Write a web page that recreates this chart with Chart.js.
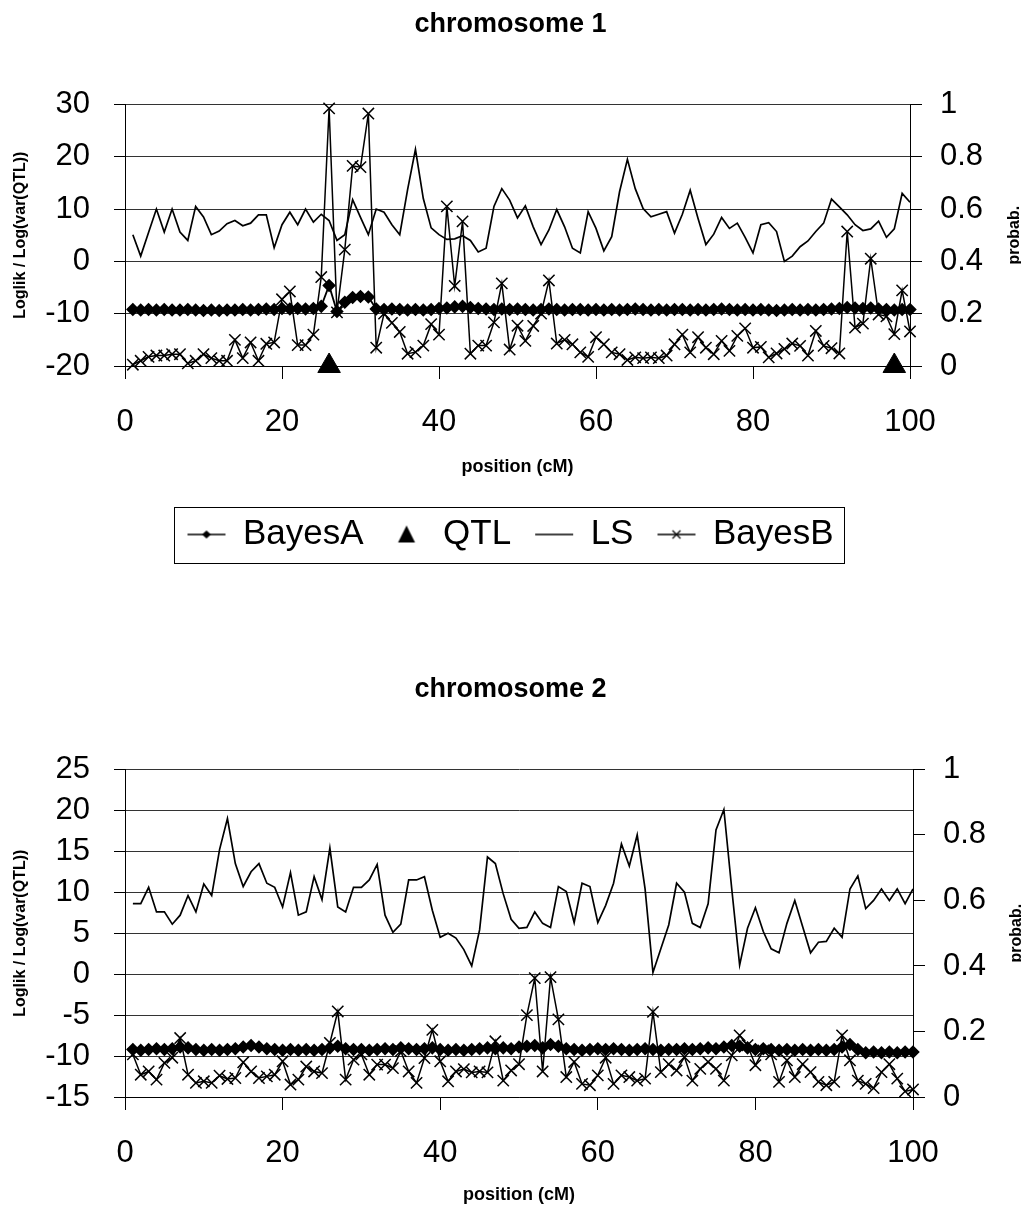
<!DOCTYPE html>
<html>
<head>
<meta charset="utf-8">
<script src="https://cdn.jsdelivr.net/npm/chart.js@4.4.1/dist/chart.umd.min.js"></script>
<style>
  body { margin: 0; background: #fff; width: 1021px; height: 1210px; overflow: hidden; }
  canvas { position: absolute; left: 0; }
  #chart1 { top: 0; }
  #chart2 { top: 600px; }
</style>
</head>
<body>
<canvas id="chart1" width="1021" height="600"></canvas>
<canvas id="chart2" width="1021" height="610"></canvas>
<script>
// positions along the chromosome (cM)
const positions = [1,2,3,4,5,6,7,8,9,10,11,12,13,14,15,16,17,18,19,20,
  21,22,23,24,25,26,27,28,29,30,31,32,33,34,35,36,37,38,39,40,
  41,42,43,44,45,46,47,48,49,50,51,52,53,54,55,56,57,58,59,60,
  61,62,63,64,65,66,67,68,69,70,71,72,73,74,75,76,77,78,79,80,
  81,82,83,84,85,86,87,88,89,90,91,92,93,94,95,96,97,98,99,100];

// chromosome 1
const ls1 = [5.1,1.0,5.5,10,5.6,10,5.6,4,10.5,8.5,
  5.1,5.8,7.2,7.8,6.8,7.3,8.9,8.9,2.6,7,
  9.4,7,10,7.5,9,7.8,4,5.1,11.8,8.4,
  5.1,10,9.4,7,5.1,13.7,21.4,12,6.4,5.1,
  4.2,4.3,4.9,4,1.8,2.5,10.5,13.9,11.7,8.3,
  10.6,6.6,3.2,6,9.9,6.6,2.5,1.6,9.5,6.3,
  2,4.7,13.3,19.5,13.9,10.1,8.5,9,9.5,5.4,
  9,13.6,8.2,3.2,5.2,8.4,6.3,7.3,4.6,1.6,
  7,7.4,5.7,0,1,2.8,3.9,5.7,7.3,11.9,
  10.4,8.9,7,5.9,6.2,7.7,4.6,6.2,13,11.3];
const bayesA1 = [-9.2,-9.3,-9.2,-9.3,-9.2,-9.3,-9.3,-9.2,-9.3,-9.4,
  -9.3,-9.4,-9.3,-9.3,-9.2,-9.3,-9.2,-9.1,-9.2,-9.0,
  -9.1,-9.0,-9.1,-9.0,-8.6,-4.6,-9.6,-7.8,-6.9,-6.7,
  -6.8,-9.1,-9.2,-9.1,-9.2,-9.3,-9.2,-9.3,-9.2,-9.0,
  -8.9,-8.7,-8.6,-8.8,-9.0,-9.1,-9.2,-9.1,-9.2,-9.1,
  -9.2,-9.3,-9.2,-9.1,-9.2,-9.3,-9.2,-9.2,-9.3,-9.2,
  -9.3,-9.2,-9.3,-9.2,-9.1,-9.2,-9.3,-9.2,-9.3,-9.2,
  -9.2,-9.3,-9.2,-9.3,-9.2,-9.1,-9.2,-9.3,-9.2,-9.3,
  -9.2,-9.3,-9.4,-9.3,-9.2,-9.3,-9.2,-9.3,-9.2,-9.1,
  -9.0,-8.8,-8.9,-9.0,-8.9,-9.1,-9.2,-9.3,-9.2,-9.2];
const bayesB1 = [0.005,0.02,0.035,0.04,0.04,0.045,0.045,0.01,0.02,0.045,
  0.03,0.02,0.02,0.1,0.03,0.09,0.02,0.085,0.09,0.255,
  0.285,0.08,0.08,0.12,0.34,0.985,0.205,0.445,0.765,0.76,
  0.965,0.07,0.2,0.165,0.13,0.047,0.053,0.078,0.16,0.12,
  0.61,0.306,0.553,0.047,0.078,0.078,0.167,0.316,0.063,0.154,
  0.096,0.153,0.2,0.327,0.086,0.1,0.083,0.052,0.035,0.11,
  0.083,0.052,0.045,0.023,0.033,0.03,0.033,0.03,0.04,0.083,
  0.12,0.052,0.11,0.07,0.045,0.096,0.058,0.115,0.144,0.07,
  0.073,0.033,0.048,0.065,0.086,0.077,0.04,0.134,0.077,0.068,
  0.048,0.514,0.147,0.162,0.41,0.197,0.19,0.122,0.289,0.132];
const qtlPositions = [26, 98];
const qtlValues = [0, 0];

// chromosome 2
const ls2 = [8.6,8.6,10.6,7.6,7.6,6.1,7.2,9.6,7.6,11,
  9.6,15.2,19,13.5,10.7,12.5,13.5,11.1,10.6,8.2,
  12.4,7.2,7.6,11.9,9.1,15.4,8.2,7.6,10.6,10.6,
  11.5,13.4,7.2,5.1,6.1,11.5,11.5,11.9,7.8,4.5,
  5,4.4,3,1,5.4,14.3,13.5,9.8,6.7,5.6,
  5.7,7.6,6.2,5.7,10.7,10.1,6.3,11.1,10.7,6.3,
  8.4,11.1,15.9,13.2,17,10.4,0.2,3.1,6,11.1,
  10,6.2,5.7,8.6,17.6,20.1,10.4,1.1,5.6,8.1,
  5.2,3.1,2.6,6.2,9,5.8,2.6,3.9,4,5.6,
  4.5,10.4,12,8,9,10.4,9,10.4,8.6,10.4];
const bayesA2 = [-9.2,-9.3,-9.2,-9.1,-9.2,-9.1,-8.9,-9.0,-9.2,-9.3,
  -9.2,-9.3,-9.2,-9.1,-8.9,-8.7,-8.9,-9.1,-9.2,-9.3,
  -9.2,-9.3,-9.2,-9.3,-9.2,-9.0,-8.8,-9.1,-9.2,-9.2,
  -9.3,-9.2,-9.1,-9.2,-9.0,-9.1,-9.2,-9.1,-9.0,-9.2,
  -9.3,-9.2,-9.3,-9.2,-9.1,-9.0,-9.1,-9.0,-9.1,-8.9,
  -8.8,-8.7,-9.0,-8.6,-8.8,-9.1,-9.2,-9.3,-9.2,-9.1,
  -9.2,-9.1,-9.2,-9.3,-9.2,-9.1,-9.2,-9.3,-9.2,-9.2,
  -9.1,-9.2,-9.1,-9.0,-9.1,-8.9,-8.7,-8.8,-9.0,-9.2,
  -9.1,-9.2,-9.3,-9.2,-9.3,-9.2,-9.3,-9.2,-9.3,-9.2,
  -8.9,-8.6,-9.2,-9.6,-9.5,-9.6,-9.5,-9.6,-9.5,-9.5];
const bayesB2 = [0.13,0.068,0.078,0.053,0.104,0.12,0.18,0.068,0.043,0.048,
  0.043,0.065,0.055,0.058,0.106,0.078,0.058,0.063,0.068,0.109,
  0.038,0.053,0.093,0.078,0.073,0.165,0.261,0.053,0.114,0.13,
  0.068,0.099,0.099,0.088,0.14,0.078,0.043,0.119,0.205,0.109,
  0.048,0.078,0.085,0.075,0.078,0.075,0.17,0.05,0.081,0.1,
  0.25,0.363,0.078,0.366,0.237,0.061,0.107,0.04,0.036,0.066,
  0.12,0.04,0.066,0.061,0.05,0.056,0.26,0.076,0.1,0.081,
  0.122,0.05,0.086,0.107,0.086,0.05,0.127,0.188,0.158,0.097,
  0.142,0.13,0.046,0.112,0.061,0.1,0.076,0.046,0.036,0.046,
  0.188,0.112,0.05,0.04,0.027,0.076,0.1,0.056,0.017,0.023];

// tick labels
const xTickLabels = ['0', '20', '40', '60', '80', '100'];
const leftTicks1 = ['-20', '-10', '0', '10', '20', '30'];
const leftTicks2 = ['-15', '-10', '-5', '0', '5', '10', '15', '20', '25'];
const probTicks = ['0', '0.2', '0.4', '0.6', '0.8', '1'];

Chart.defaults.font.family = '"Liberation Sans", Arial, sans-serif';
Chart.defaults.color = '#000';

function pairs(xs, ys) {
    return xs.map((x, i) => ({ x: x, y: ys[i] }));
}

// little excel-style legend symbols
function makeIcon(kind) {
    const c = document.createElement('canvas');
    c.width = 40;
    c.height = 24;
    const g = c.getContext('2d');
    g.strokeStyle = '#000';
    g.fillStyle = '#000';
    g.lineWidth = 1.6;
    if (kind !== 'triangle') {
        g.beginPath(); g.moveTo(1, 12); g.lineTo(39, 12); g.stroke();
    }
    if (kind === 'diamond') {
        g.beginPath(); g.moveTo(20, 8); g.lineTo(24.5, 12); g.lineTo(20, 16); g.lineTo(15.5, 12); g.closePath(); g.fill();
    }
    if (kind === 'cross') {
        g.lineWidth = 1.2;
        g.beginPath(); g.moveTo(16, 8); g.lineTo(24, 16); g.moveTo(24, 8); g.lineTo(16, 16); g.stroke();
    }
    if (kind === 'triangle') {
        g.beginPath(); g.moveTo(20, 3); g.lineTo(28.5, 20); g.lineTo(11.5, 20); g.closePath(); g.fill();
    }
    return c;
}
const legendIcons = [makeIcon('diamond'), makeIcon('triangle'), makeIcon('line'), makeIcon('cross')];

const rightTitle = {
    id: 'rightTitle',
    afterDraw(chart, args, opts) {
        const { ctx, chartArea } = chart;
        ctx.save();
        ctx.font = 'bold 16px "Liberation Sans", Arial, sans-serif';
        ctx.fillStyle = '#000';
        ctx.translate(opts.x, (chartArea.top + chartArea.bottom) / 2);
        ctx.rotate(-Math.PI / 2);
        ctx.textAlign = 'center';
        ctx.textBaseline = 'middle';
        ctx.fillText(opts.text, 0, 0);
        ctx.restore();
    }
};

const legendFrame = {
    id: 'legendFrame',
    afterDraw(chart) {
        const lg = chart.legend;
        if (!lg || !lg.options.display || !lg.legendHitBoxes.length) return;
        const boxes = lg.legendHitBoxes;
        let left = Infinity, right = -Infinity;
        boxes.forEach(b => {
            left = Math.min(left, b.left);
            right = Math.max(right, b.left + b.width);
        });
        const mid = boxes[0].top + boxes[0].height / 2;
        const ctx = chart.ctx;
        ctx.save();
        ctx.strokeStyle = '#000';
        ctx.lineWidth = 1;
        ctx.strokeRect(Math.round(left - 13) + 0.5, Math.round(mid - 28) + 0.5, Math.round(right - left + 24), 56);
        ctx.restore();
    }
};

function buildDatasets(ls, bayesA, bayesB, withQtl) {
    const sets = [{
        label: 'BayesA',
        data: pairs(positions, bayesA),
        yAxisID: 'y',
        borderColor: '#000',
        borderWidth: 1.8,
        pointStyle: 'rectRot',
        pointRadius: 5.5,
        pointBackgroundColor: '#000',
        pointBorderColor: '#000',
        clip: false
    }];
    if (withQtl) {
        sets.push({
            label: 'QTL',
            data: pairs(qtlPositions, qtlValues),
            yAxisID: 'y1',
            showLine: false,
            pointStyle: 'triangle',
            pointRadius: 13,
            pointBackgroundColor: '#000',
            pointBorderColor: '#000',
            borderColor: '#000',
            clip: false
        });
    }
    sets.push({
        label: 'LS',
        data: pairs(positions, ls),
        yAxisID: 'y',
        borderColor: '#000',
        borderWidth: 1.7,
        pointRadius: 0,
        pointStyle: 'line'
    });
    sets.push({
        label: 'BayesB',
        data: pairs(positions, bayesB),
        yAxisID: 'y1',
        borderColor: '#000',
        borderWidth: 1.5,
        pointStyle: 'crossRot',
        pointRadius: 8,
        pointBorderWidth: 1.5,
        pointBorderColor: '#000',
        clip: false
    });
    return sets;
}

function buildOptions(o) {
    return {
        responsive: false,
        animation: false,
        devicePixelRatio: 1,
        layout: { padding: { left: 0, right: 0, top: 0, bottom: o.padBottom } },
        plugins: {
            title: {
                display: true,
                text: o.title,
                color: '#000',
                font: { size: 27, weight: 'bold' },
                padding: { top: o.titleTop, bottom: o.titleBottom }
            },
            legend: {
                display: o.legend,
                position: 'bottom',
                labels: {
                    usePointStyle: true,
                    pointStyleWidth: 38,
                    padding: 24,
                    color: '#000',
                    font: { size: 35 },
                    generateLabels(chart) {
                        const items = Chart.defaults.plugins.legend.labels.generateLabels(chart);
                        items.forEach((it, i) => { it.pointStyle = legendIcons[i]; });
                        return items;
                    }
                }
            },
            tooltip: { enabled: false },
            rightTitle: { text: 'probab.', x: o.rightTitleX }
        },
        scales: {
            x: {
                type: 'linear',
                position: 'bottom',
                min: 0,
                max: 100,
                ticks: { stepSize: 20, padding: 25, font: { size: 31 }, color: '#000',
                    callback: (v, i) => xTickLabels[i] },
                grid: { drawOnChartArea: false, drawTicks: true, tickLength: 13, tickColor: '#000' },
                border: { color: '#000', width: 1 },
                title: { display: true, text: 'position (cM)', color: '#000',
                    font: { size: 18, weight: 'bold' }, padding: { top: 0, bottom: o.xTitlePad } },
                afterFit: s => { s.height = o.xHeight; }
            },
            y: {
                type: 'linear',
                position: 'left',
                min: o.yMin,
                max: o.yMax,
                ticks: { stepSize: o.yStep, padding: 24, font: { size: 31 }, color: '#000',
                    callback: (v, i) => o.yLabels[i] },
                grid: { color: '#333', lineWidth: 1, drawTicks: true, tickLength: 11, tickColor: '#000' },
                border: { color: '#000', width: 1 },
                title: { display: true, text: 'Loglik / Log(var(QTL))', color: '#000',
                    font: { size: 16, weight: 'bold' }, padding: { top: 11, bottom: 0 } },
                afterFit: s => { s.width = 125; }
            },
            y1: {
                type: 'linear',
                position: 'right',
                min: 0,
                max: 1,
                ticks: { stepSize: 0.2, padding: 18, font: { size: 31 }, color: '#000',
                    callback: (v, i) => probTicks[i] },
                grid: { drawOnChartArea: false, drawTicks: true, tickLength: 12, tickColor: '#000' },
                border: { color: '#000', width: 1 },
                afterFit: s => { s.width = o.rightWidth; }
            }
        }
    };
}

new Chart(document.getElementById('chart1'), {
    type: 'line',
    data: { datasets: buildDatasets(ls1, bayesA1, bayesB1, true) },
    options: buildOptions({
        title: 'chromosome 1', titleTop: 8, titleBottom: 64,
        legend: true, padBottom: 38, xHeight: 127, xTitlePad: 15,
        yMin: -20, yMax: 30, yStep: 10, yLabels: leftTicks1,
        rightWidth: 111, rightTitleX: 1015
    }),
    plugins: [rightTitle, legendFrame]
});

new Chart(document.getElementById('chart2'), {
    type: 'line',
    data: { datasets: buildDatasets(ls2, bayesA2, bayesB2, false) },
    options: buildOptions({
        title: 'chromosome 2', titleTop: 73, titleBottom: 64,
        legend: false, padBottom: 4, xHeight: 109, xTitlePad: 0,
        yMin: -15, yMax: 25, yStep: 5, yLabels: leftTicks2,
        rightWidth: 108, rightTitleX: 1017
    }),
    plugins: [rightTitle]
});
</script>
</body>
</html>
